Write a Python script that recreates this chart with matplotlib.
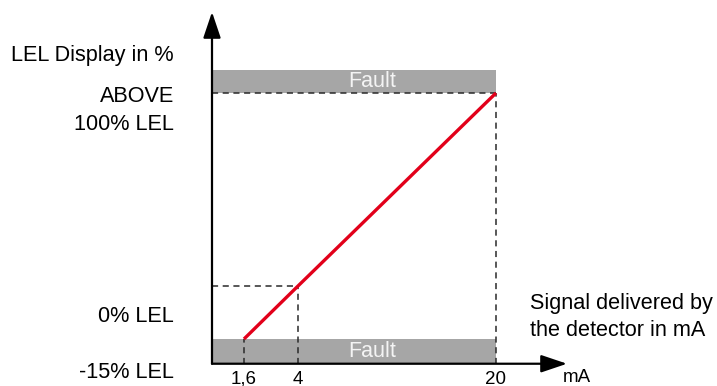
import numpy as np
import matplotlib
matplotlib.use("Agg")
import matplotlib.pyplot as plt

plt.rcParams['font.family'] = ['Liberation Sans', 'DejaVu Sans']

# signal (mA) -> LEL display (%)
signal_ma = [1.6, 4, 20]
lel_pct = [-15, 0, 100]
tick_labels = ["1,6", "4", "20"]
fault_high = (100, 112)
fault_low = (-22, -15)
y_labels = ["ABOVE", "100% LEL", "0% LEL", "-15% LEL"]

RED = "#e2001a"
GREY = "#a6a6a6"


def piecewise(vals, pos):
    # schematic (not to scale) axis: piecewise linear between anchor points
    vals = np.asarray(vals, float)
    pos = np.asarray(pos, float)
    s0 = (pos[1] - pos[0]) / (vals[1] - vals[0])
    s1 = (pos[-1] - pos[-2]) / (vals[-1] - vals[-2])
    v = np.concatenate([[vals[0] - 1e4], vals, [vals[-1] + 1e4]])
    p = np.concatenate([[pos[0] - 1e4 * s0], pos, [pos[-1] + 1e4 * s1]])
    return (lambda x: np.interp(x, v, p)), (lambda y: np.interp(y, p, v))


W, H = 717, 386
fig = plt.figure(figsize=(W / 100, H / 100), dpi=100)
ax = fig.add_axes([0, 0, 1, 1])
fx, ix = piecewise([0] + signal_ma, [212, 244, 298, 496])
fy, iy = piecewise(lel_pct, [H - 339, H - 286, H - 93])
ax.set_xscale('function', functions=(fx, ix))
ax.set_yscale('function', functions=(fy, iy))
ax.set_xlim(ix(0), ix(W))
ax.set_ylim(iy(0), iy(H))
ax.axis('off')

x0, y0 = 0, fault_low[0]
x_end, y_end = float(ix(567)), float(iy(H - 12))

# fault bands
ax.fill_between([x0, signal_ma[-1]], fault_high[0], fault_high[1], color=GREY, lw=0, zorder=1)
ax.fill_between([x0, signal_ma[-1]], fault_low[0], fault_low[1], color=GREY, lw=0, zorder=1)
for lo, hi in (fault_high, fault_low):
    yc = float(iy((fy(lo) + fy(hi)) / 2))
    ax.text(signal_ma[-1] / 2, yc, "Fault", color="#f4f4f4", fontsize=15.5,
            ha='center', va='center', zorder=3)

# dashed guides
dash = dict(color="#2a2a2a", lw=1.1, ls=(0, (4, 3)), zorder=2)
ax.plot([x0, signal_ma[-1]], [lel_pct[-1]] * 2, **dash)
ax.plot([x0, signal_ma[1]], [lel_pct[1]] * 2, **dash)
for xv, yv in zip(signal_ma, lel_pct):
    ax.plot([xv, xv], [y0, yv], **dash)

# transfer line
ax.plot(signal_ma, lel_pct, color=RED, lw=2.4, solid_capstyle='butt', zorder=4)

# axes with arrows
arr = dict(arrowstyle='-|>,head_length=0.8,head_width=0.27', mutation_scale=20,
           color='black', lw=1.6, shrinkA=0, shrinkB=0)
ax.annotate("", xy=(x_end, y0), xytext=(x0, y0), arrowprops=arr, zorder=5)
ax.annotate("", xy=(x0, y_end), xytext=(x0, y0), arrowprops=arr, zorder=5)

# x tick labels
for xv, lab in zip(signal_ma, tick_labels):
    ax.text(xv, iy(H - 379), lab, fontsize=13.5, ha='center', va='center')
ax.text(ix(577), iy(H - 378), "mA", fontsize=13.5, ha='center', va='center')

# y labels
ax.text(ix(174), iy(H - 55), "LEL Display in %", fontsize=15.6, ha='right', va='center')
for lab, py in zip(y_labels, [97, 125, 317, 372]):
    ax.text(ix(174), iy(H - py), lab, fontsize=15.6, ha='right', va='center')

ax.text(ix(530), iy(H - 304), "Signal delivered by", fontsize=15.6, ha='left', va='center')
ax.text(ix(530), iy(H - 330), "the detector in mA", fontsize=15.6, ha='left', va='center')

fig.savefig("out.png", dpi=100)
